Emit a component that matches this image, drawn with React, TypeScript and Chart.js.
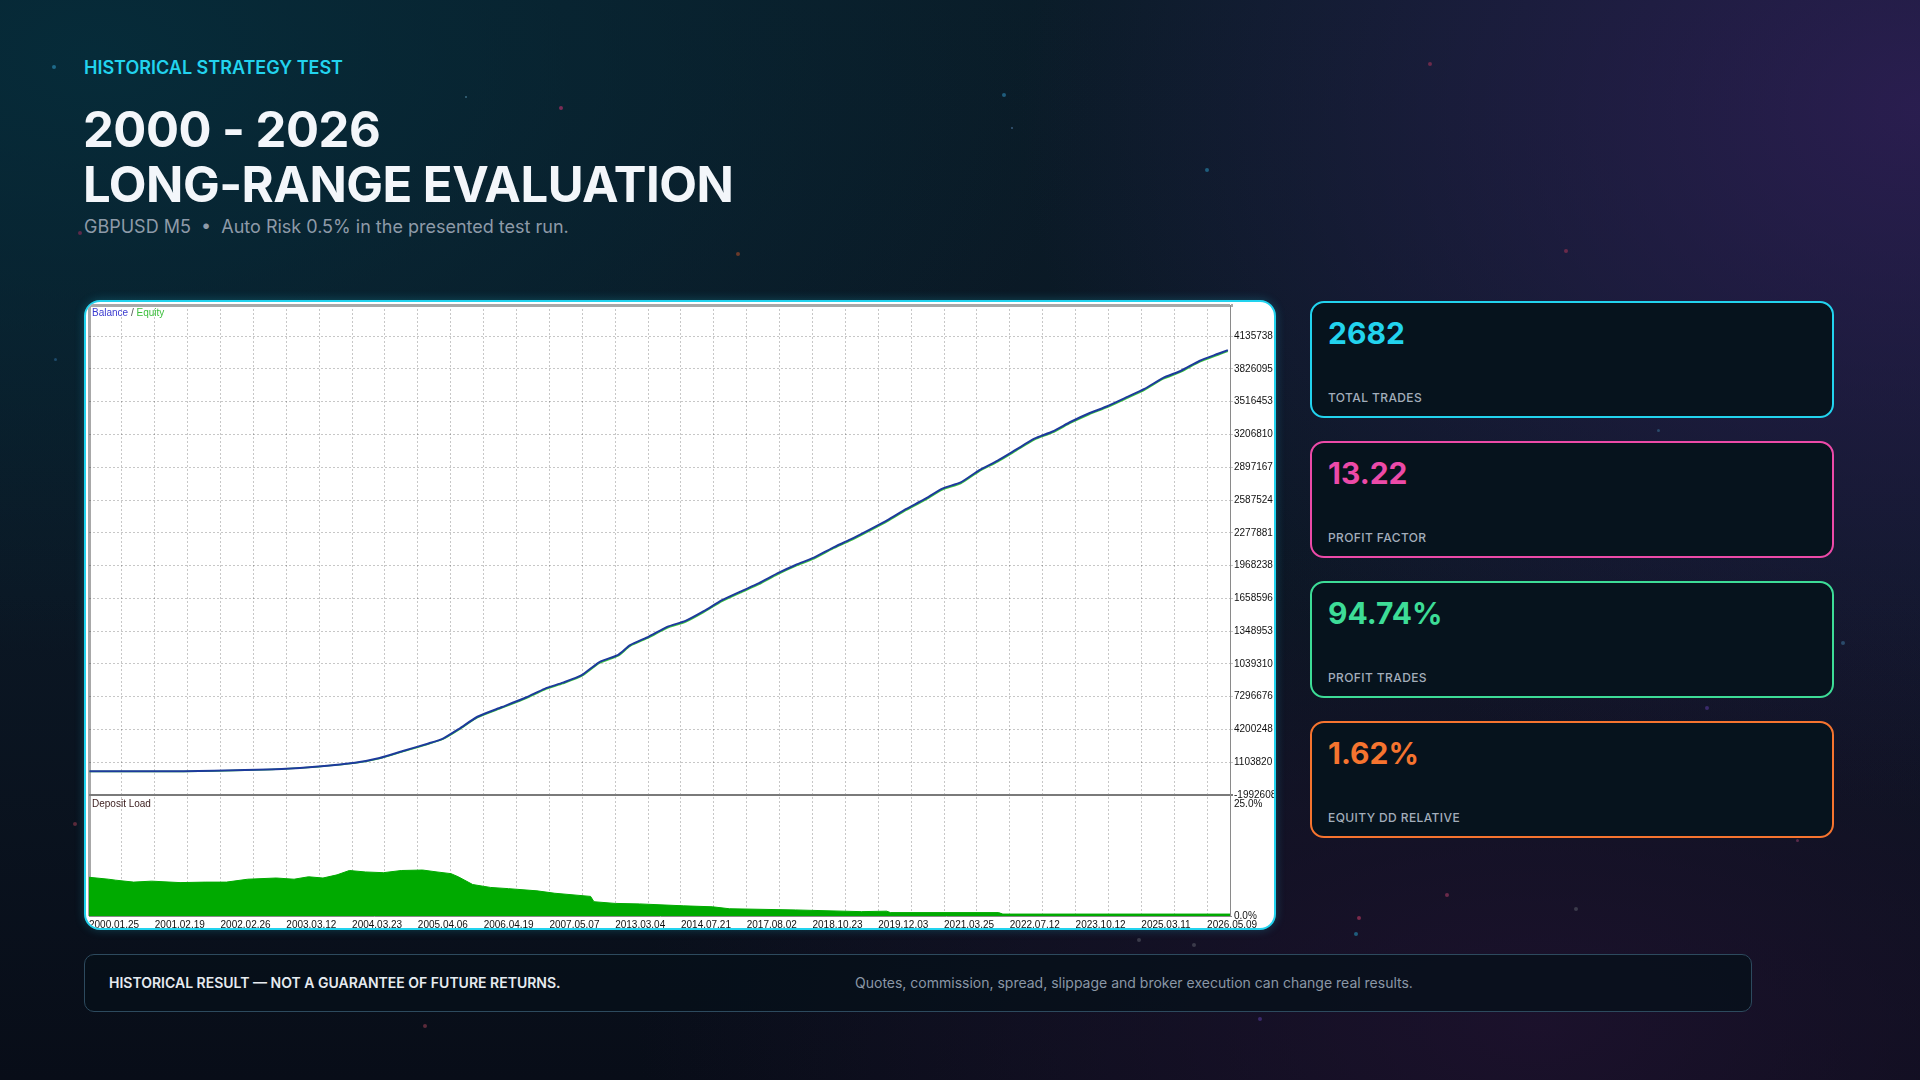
import React, { useEffect, useRef } from "react";
import { Chart, registerables } from "chart.js";

Chart.register(...registerables);

// ---------- data ----------
const TOTAL_TRADES = 2682;
const X_GRID_STEP = 77.3;
const X_GRID_COUNT = 34;
const DATE_LABELS = [
  "2000.01.25", "2001.02.19", "2002.02.26", "2003.03.12", "2004.03.23", "2005.04.06",
  "2006.04.19", "2007.05.07", "2013.03.04", "2014.07.21", "2017.08.02", "2018.10.23",
  "2019.12.03", "2021.03.25", "2022.07.12", "2023.10.12", "2025.03.11", "2026.05.09",
];

const Y_MIN = -1992608;
const Y_MAX = 44300000;
const Y_TICKS = [
  -1992608, 1103820, 4200248, 7296676, 10393104, 13489532, 16585960, 19682388,
  22778816, 25875244, 28971672, 32068100, 35164528, 38260956, 41357384,
];
const Y_TICK_LABELS = [
  "-1992608", "1103820", "4200248", "7296676", "1039310", "1348953", "1658596", "1968238",
  "2277881", "2587524", "2897167", "3206810", "3516453", "3826095", "4135738",
];

const BALANCE_TRADES = [
  1, 222, 366, 453, 539, 625, 683, 740, 798, 832, 870, 913, 971, 1028, 1071, 1114, 1157,
  1200, 1244, 1272, 1316, 1359, 1402, 1445, 1488, 1531, 1575, 1618, 1661, 1704, 1747, 1790,
  1834, 1877, 1920, 1963, 2006, 2049, 2092, 2136, 2179, 2222, 2265, 2308, 2351, 2395, 2438,
  2481, 2524, 2567, 2610, 2654, 2677,
];
const BALANCE = [
  245000, 245000, 360000, 470000, 700000, 1050000, 1500000, 2190000, 2880000, 3340000,
  4260000, 5400000, 6320000, 7240000, 8040000, 8620000, 9300000, 10570000, 11250000, 12170000,
  12970000, 13890000, 14460000, 15380000, 16410000, 17220000, 18020000, 18940000, 19740000, 20430000,
  21340000, 22150000, 23060000, 23980000, 25010000, 25930000, 26960000, 27540000, 28680000, 29600000,
  30630000, 31670000, 32350000, 33270000, 34070000, 34760000, 35570000, 36370000, 37400000, 38090000,
  39010000, 39690000, 40040000,
];
const EQUITY = [
  235000, 235000, 350000, 455000, 680000, 1020000, 1460000, 2140000, 2820000, 3280000,
  4190000, 5320000, 6240000, 7150000, 7950000, 8530000, 9210000, 10470000, 11150000, 12070000,
  12870000, 13780000, 14350000, 15270000, 16300000, 17110000, 17910000, 18830000, 19630000, 20320000,
  21230000, 22040000, 22950000, 23870000, 24900000, 25820000, 26850000, 27430000, 28570000, 29490000,
  30520000, 31560000, 32240000, 33160000, 33960000, 34650000, 35460000, 36260000, 37290000, 37980000,
  38900000, 39580000, 39930000,
];

const LOAD_TRADES = [
  0, 46, 63, 105, 147, 214, 273, 323, 373, 440, 482, 516, 550, 583, 612, 650, 692, 734, 784,
  818, 851, 868, 902, 944, 986, 1053, 1095, 1179, 1187, 1237, 1294, 1398, 1466, 1505, 1661,
  1816, 1875, 1884, 2138, 2148, 2682,
];
const LOAD_PCT = [
  8.0, 7.6, 7.4, 7.0, 7.2, 6.9, 7.0, 7.0, 7.6, 7.85, 7.6, 8.1, 7.85, 8.5, 9.4, 9.1, 8.95, 9.4,
  9.5, 9.1, 8.75, 8.1, 6.5, 5.9, 5.65, 5.2, 4.7, 4.05, 2.95, 2.6, 2.5, 2.1, 1.9, 1.5, 1.25,
  0.9, 1.0, 0.7, 0.7, 0.4, 0.4,
];
const LOAD_MAX = 25;
const LOAD_TICK_LABELS = ["0.0%", "25.0%"];

const STAT_VALUES = ["2682", "13.22", "94.74%", "1.62%"];
const STAT_LABELS = ["TOTAL TRADES", "PROFIT FACTOR", "PROFIT TRADES", "EQUITY DD RELATIVE"];
const STAT_COLORS = ["#22d3ee", "#ec4aa8", "#3ddc97", "#f6742f"];

const STARS: [number, number, number, string][] = [
  [54, 67, 4, "#1e6a8a"], [561, 108, 4, "#7a2c55"], [466, 97, 2, "#3a6a80"], [1004, 95, 4, "#1f5d7c"],
  [1207, 170, 4, "#1f5d7c"], [1430, 64, 4, "#6a2a4a"], [1566, 251, 4, "#6a2a4a"], [738, 254, 4, "#6a3a2a"],
  [80, 233, 4, "#5a2a4a"], [55, 359, 3, "#1e4a6a"], [1707, 708, 4, "#3a2a6a"], [1843, 643, 4, "#2a4a6a"],
  [1797, 840, 3, "#5a2a4a"], [1576, 909, 4, "#3a3a4a"], [1356, 934, 4, "#1f5d7c"], [1359, 918, 4, "#7a2a4a"],
  [1447, 895, 4, "#6a2a4a"], [1139, 940, 4, "#3a3a4a"], [1194, 945, 4, "#3a3a4a"], [1260, 1019, 4, "#3a2a6a"],
  [425, 1026, 4, "#5a2a3a"], [75, 824, 4, "#5a2a3a"], [1658, 430, 3, "#2a4a6a"], [1012, 128, 2, "#3a5a7a"],
];

// ---------- chart ----------
function BalanceChart() {
  const ref = useRef<HTMLCanvasElement | null>(null);

  useEffect(() => {
    if (!ref.current) return;
    const dotted = "rgba(0,0,0,0.22)";
    const xTicks: number[] = [];
    for (let k = 0; k <= X_GRID_COUNT; k++) xTicks.push(k * X_GRID_STEP);

    const fitY = (s: any) => {
      s.width = 44;
      s.paddingTop = 0;
      s.paddingBottom = 0;
    };

    const chart = new Chart(ref.current, {
      type: "line",
      data: {
        datasets: [
          {
            label: "Balance",
            data: BALANCE_TRADES.map((t, i) => ({ x: t, y: BALANCE[i] })),
            borderColor: "#1d3a9c",
            borderWidth: 2,
            pointRadius: 0,
            tension: 0.2,
            yAxisID: "y",
          },
          {
            label: "Equity",
            data: BALANCE_TRADES.map((t, i) => ({ x: t, y: EQUITY[i] })),
            borderColor: "#3cc83c",
            borderWidth: 1.5,
            pointRadius: 0,
            tension: 0.2,
            yAxisID: "y",
          },
          {
            label: "Deposit Load",
            data: LOAD_TRADES.map((t, i) => ({ x: t, y: LOAD_PCT[i] })),
            borderColor: "#00aa00",
            backgroundColor: "#00aa00",
            borderWidth: 1,
            pointRadius: 0,
            fill: "origin",
            yAxisID: "y2",
          },
        ],
      },
      options: {
        animation: false,
        responsive: false,
        events: [],
        layout: { padding: { left: 3, top: 3, right: 0, bottom: 0 } },
        plugins: { legend: { display: false }, tooltip: { enabled: false } },
        scales: {
          x: {
            type: "linear",
            min: 0,
            max: TOTAL_TRADES,
            afterBuildTicks: (s: any) => {
              s.ticks = xTicks.map((v) => ({ value: v }));
            },
            afterFit: (s: any) => {
              s.paddingLeft = 0;
              s.paddingRight = 0;
              s.height = 12;
            },
            ticks: {
              autoSkip: false,
              maxRotation: 0,
              align: "start",
              padding: 3,
              color: "#111",
              font: { family: "Liberation Sans", size: 10 },
              callback: (_v: any, i: number) => (i % 2 === 0 ? DATE_LABELS[i / 2] ?? "" : ""),
            },
            grid: {
              drawTicks: false,
              color: (c: any) => (c.tick && c.tick.value === 0 ? "#a8a8a8" : dotted),
              lineWidth: (c: any) => (c.tick && c.tick.value === 0 ? 3 : 1),
            },
            border: {
              display: true,
              color: "#8a8a8a",
              width: 1,
              dash: (c: any) => (c.tick && c.tick.value === 0 ? [] : [2, 2]),
            },
          },
          y: {
            type: "linear",
            position: "right",
            stack: "mt5",
            stackWeight: 490,
            min: Y_MIN,
            max: Y_MAX,
            afterBuildTicks: (s: any) => {
              s.ticks = [...Y_TICKS, Y_MAX].map((v) => ({ value: v }));
            },
            afterFit: fitY,
            ticks: {
              autoSkip: false,
              padding: 1,
              color: "#111",
              font: { family: "Liberation Sans", size: 10 },
              callback: (_v: any, i: number) => Y_TICK_LABELS[i] ?? "",
            },
            grid: {
              tickLength: 3,
              color: (c: any) => (c.tick && c.tick.value === Y_MAX ? "#a8a8a8" : dotted),
              lineWidth: (c: any) => (c.tick && c.tick.value === Y_MAX ? 3 : 1),
            },
            border: {
              display: true,
              color: "#8a8a8a",
              width: 1,
              dash: (c: any) => (c.tick && c.tick.value === Y_MAX ? [] : [2, 2]),
            },
          },
          y2: {
            type: "linear",
            position: "right",
            stack: "mt5",
            stackWeight: 121,
            min: 0,
            max: LOAD_MAX,
            afterBuildTicks: (s: any) => {
              s.ticks = [0, LOAD_MAX].map((v) => ({ value: v }));
            },
            afterFit: fitY,
            ticks: {
              autoSkip: false,
              padding: 1,
              color: "#111",
              font: { family: "Liberation Sans", size: 10, lineHeight: 1.8 },
              callback: (_v: any, i: number) => (i === 0 ? LOAD_TICK_LABELS[0] : ["", LOAD_TICK_LABELS[1]]),
            },
            grid: {
              tickLength: 3,
              color: (c: any) => (c.tick && c.tick.value === LOAD_MAX ? "#7a7a7a" : "rgba(0,0,0,0)"),
              lineWidth: (c: any) => (c.tick && c.tick.value === LOAD_MAX ? 2 : 1),
            },
            border: { display: true, color: "#8a8a8a", width: 1 },
          },
        },
      } as any,
    });
    return () => chart.destroy();
  }, []);

  return <canvas ref={ref} width={1188} height={626} style={{ display: "block" }} />;
}

export default function App() {
  const font = "Inter, 'Noto Sans', sans-serif";
  return (
    <div
      style={{
        position: "relative",
        width: 1920,
        height: 1080,
        overflow: "hidden",
        fontFamily: font,
        background:
          "radial-gradient(ellipse 900px 700px at 100% 10%, rgba(52,30,92,0.75), rgba(52,30,92,0) 100%)," +
          "radial-gradient(ellipse 1000px 600px at 5% 5%, rgba(6,44,58,0.95), rgba(6,44,58,0) 100%)," +
          "radial-gradient(ellipse 900px 500px at 80% 95%, rgba(32,18,48,0.8), rgba(32,18,48,0) 100%)," +
          "linear-gradient(180deg, #0a1c28 0%, #0b1724 55%, #080d18 100%)",
      }}
    >
      <style>{`html,body{margin:0;padding:0;background:#080d18;}`}</style>

      {STARS.map(([x, y, r, c], i) => (
        <div
          key={i}
          style={{
            position: "absolute",
            left: x - r / 2,
            top: y - r / 2,
            width: r,
            height: r,
            borderRadius: "50%",
            background: c,
          }}
        />
      ))}

      <div
        style={{
          position: "absolute",
          left: 84,
          top: 57,
          fontSize: 18,
          lineHeight: "22px",
          fontWeight: 600,
          color: "#22d3ee",
        }}
      >
        HISTORICAL STRATEGY TEST
      </div>
      <div
        style={{
          position: "absolute",
          left: 83,
          top: 102,
          fontSize: 49,
          lineHeight: "55px",
          fontWeight: 700,
          color: "#f3f6fa",
          letterSpacing: -0.5,
        }}
      >
        2000 - 2026
        <br />
        LONG-RANGE EVALUATION
      </div>
      <div
        style={{
          position: "absolute",
          left: 84,
          top: 216,
          fontSize: 18,
          lineHeight: "22px",
          color: "#8e9aa8",
        }}
      >
        GBPUSD M5&nbsp;&nbsp;•&nbsp;&nbsp;Auto Risk 0.5% in the presented test run.
      </div>

      <div
        style={{
          position: "absolute",
          left: 84,
          top: 300,
          width: 1192,
          height: 630,
          boxSizing: "border-box",
          border: "2px solid #22d3ee",
          borderRadius: 16,
          overflow: "hidden",
          background: "#ffffff",
          boxShadow: "0 0 10px rgba(34,211,238,0.25)",
        }}
      >
        <BalanceChart />
        <div
          style={{
            position: "absolute",
            left: 6,
            top: 5,
            fontFamily: "Liberation Sans",
            fontSize: 10,
            lineHeight: "12px",
          }}
        >
          <span style={{ color: "#3b3bd0" }}>Balance</span>
          <span style={{ color: "#555" }}> / </span>
          <span style={{ color: "#3cbf3c" }}>Equity</span>
        </div>
        <div
          style={{
            position: "absolute",
            left: 6,
            top: 496,
            fontFamily: "Liberation Sans",
            fontSize: 10,
            lineHeight: "12px",
            color: "#3a1c1c",
          }}
        >
          Deposit Load
        </div>
      </div>

      {STAT_VALUES.map((v, i) => (
        <div
          key={i}
          style={{
            position: "absolute",
            left: 1310,
            top: 301 + i * 140,
            width: 524,
            height: 117,
            boxSizing: "border-box",
            border: `2px solid ${STAT_COLORS[i]}`,
            borderRadius: 14,
            background: "#06131d",
          }}
        >
          <div
            style={{
              position: "absolute",
              left: 16,
              top: 12,
              fontSize: 30,
              lineHeight: "36px",
              fontWeight: 700,
              color: STAT_COLORS[i],
            }}
          >
            {v}
          </div>
          <div
            style={{
              position: "absolute",
              left: 16,
              top: 87,
              fontSize: 12,
              lineHeight: "16px",
              fontWeight: 500,
              letterSpacing: 0.4,
              color: "#a3aebb",
            }}
          >
            {STAT_LABELS[i]}
          </div>
        </div>
      ))}

      <div
        style={{
          position: "absolute",
          left: 84,
          top: 954,
          width: 1668,
          height: 58,
          boxSizing: "border-box",
          border: "1px solid #2d4a5e",
          borderRadius: 10,
          background: "rgba(6,16,26,0.75)",
        }}
      >
        <div
          style={{
            position: "absolute",
            left: 24,
            top: 19,
            fontSize: 14,
            lineHeight: "18px",
            fontWeight: 600,
            color: "#e6ebf0",
          }}
        >
          HISTORICAL RESULT — NOT A GUARANTEE OF FUTURE RETURNS.
        </div>
        <div
          style={{
            position: "absolute",
            left: 770,
            top: 19,
            fontSize: 14,
            lineHeight: "18px",
            color: "#8a97a6",
          }}
        >
          Quotes, commission, spread, slippage and broker execution can change real results.
        </div>
      </div>
    </div>
  );
}
